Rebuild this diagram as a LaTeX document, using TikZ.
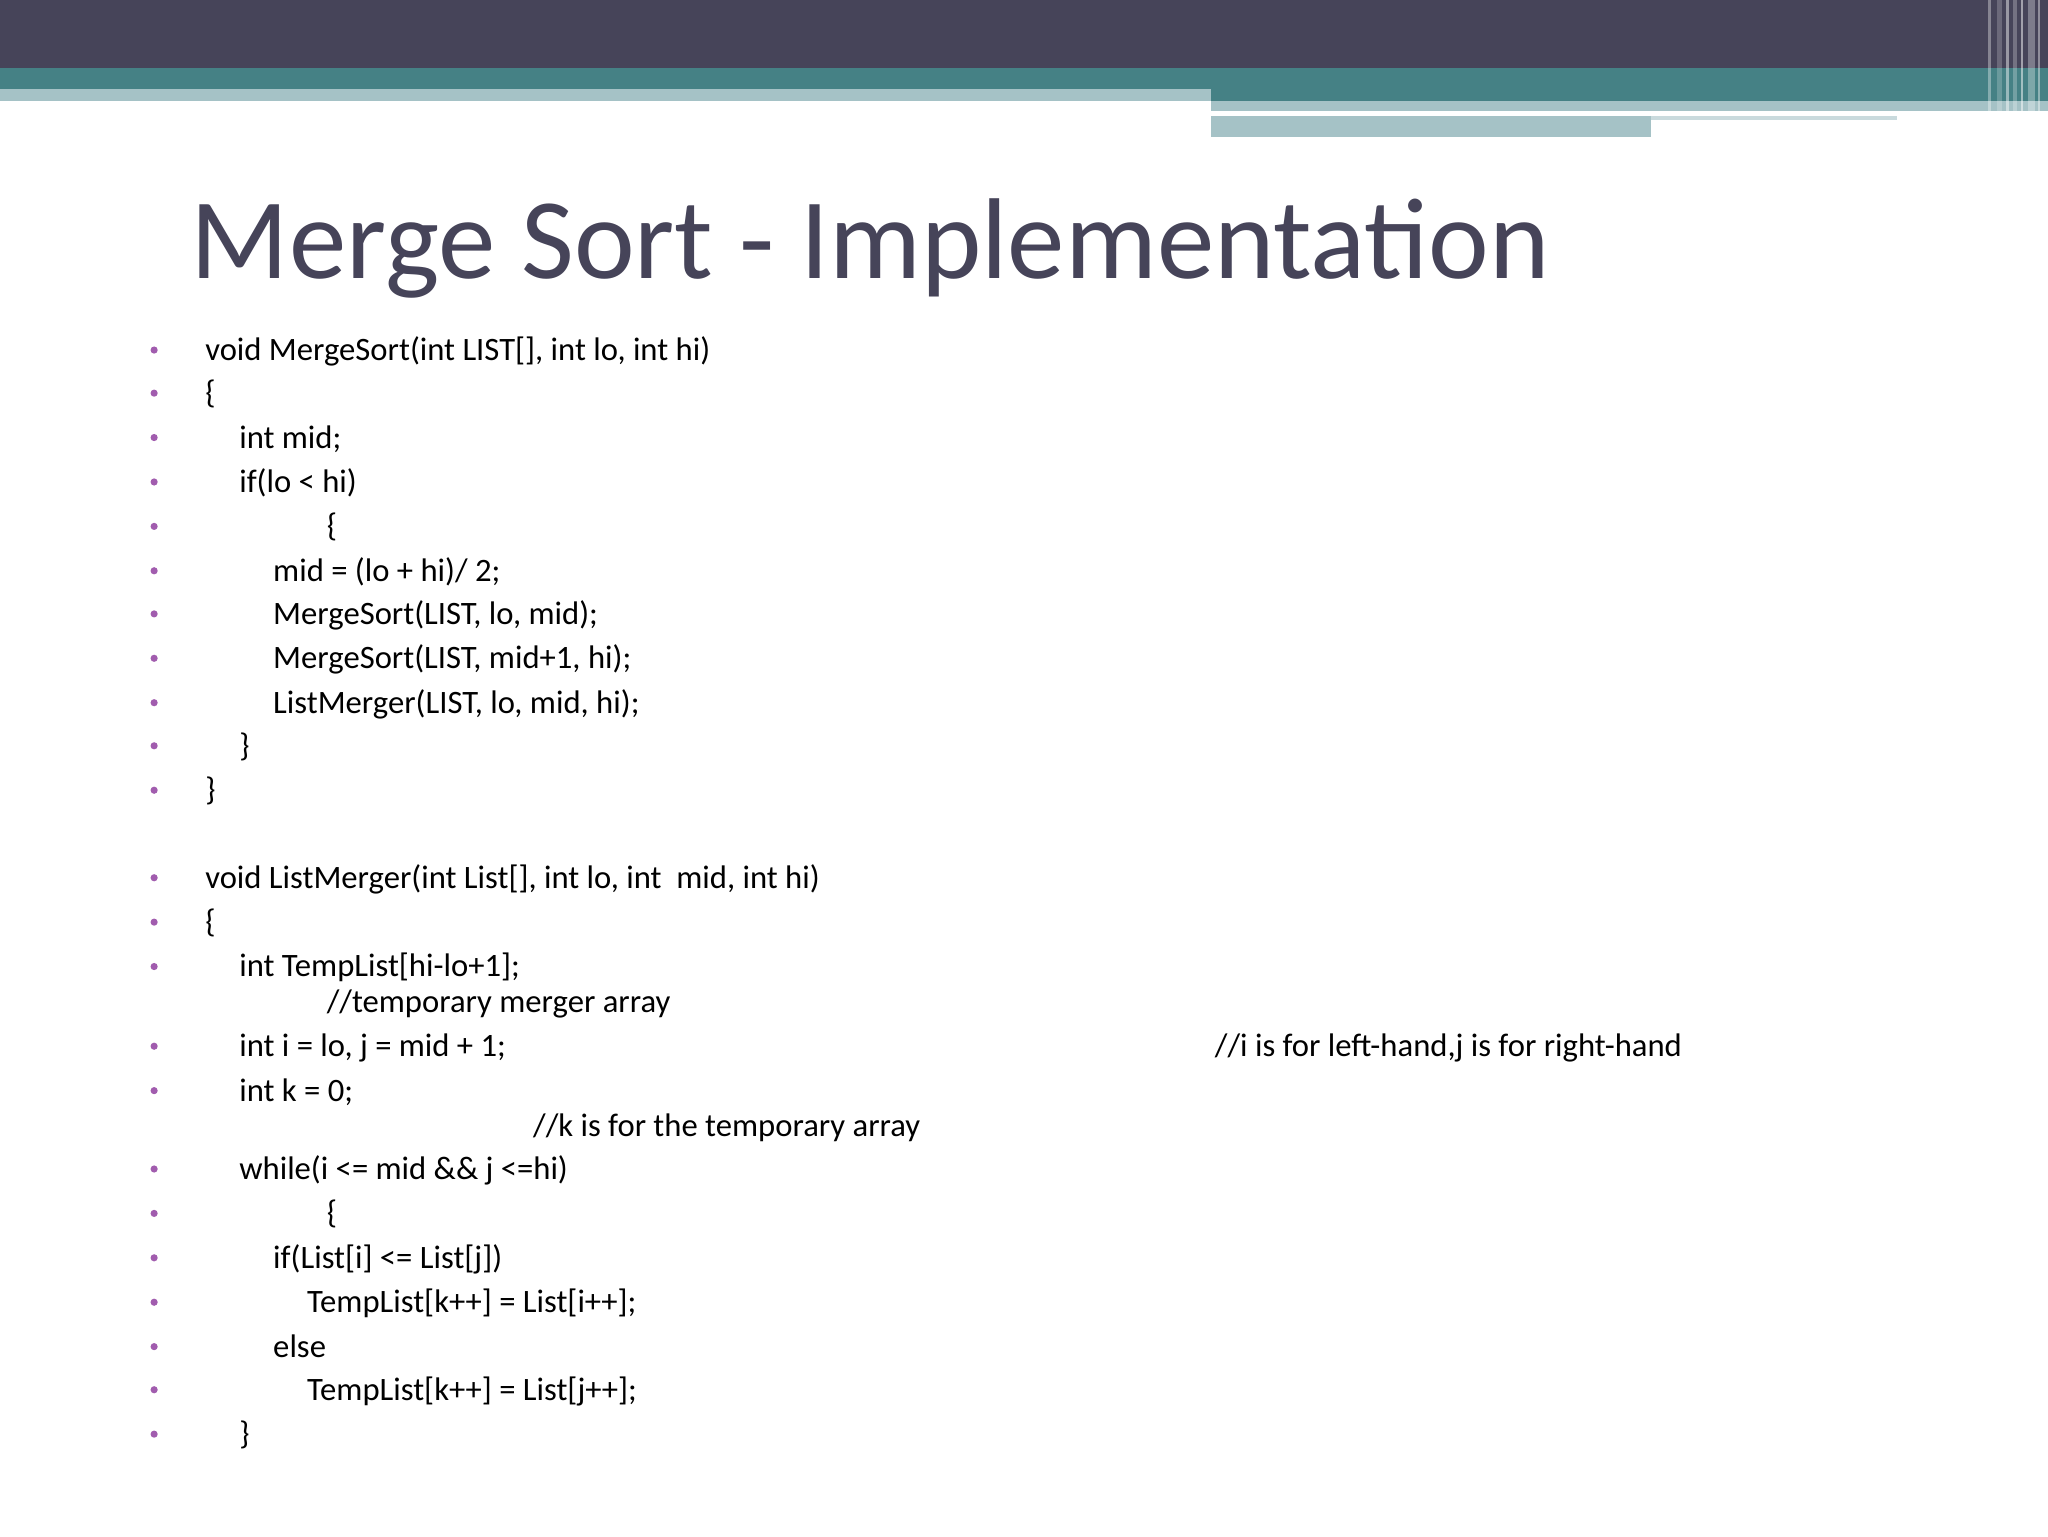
\documentclass[tikz,border=0pt]{standalone}
\usepackage{fontspec}
\setmainfont{Carlito}
\begin{document}
\begin{tikzpicture}[x=1pt,y=-1pt,
  code/.style={anchor=base west,inner sep=0pt,font=\fontsize{25}{30}\selectfont},
  bul/.style={circle,fill=bulc,inner sep=0pt,minimum size=5.5pt}]
\definecolor{dark}{HTML}{464459}
\definecolor{teal}{HTML}{458185}
\definecolor{light}{HTML}{A5C2C6}
\definecolor{bulc}{HTML}{A15CAE}
\useasboundingbox (0,0) rectangle (1568,1176);
\fill[white] (0,0) rectangle (1568,1176);
\fill[dark] (0,0) rectangle (1568,52);
\fill[teal] (0,52) rectangle (1568,68);
\fill[teal] (927,68) rectangle (1568,77);
\fill[light] (0,68) rectangle (927,77);
\fill[light] (927,77) rectangle (1568,85);
\fill[light] (927,89) rectangle (1264,105);
\fill[light!60] (1264,89) rectangle (1452,92);
\foreach \a/\w/\o in {1522/2/0.35,1529/4/0.2,1536/2/0.45,1541/3/0.25,1547/1.5/0.5,1553/5/0.3,1560/2/0.4}
  \fill[white,opacity=\o] (\a,0) rectangle (\a+\w,105);
\node[anchor=base west,inner sep=0pt,text=dark,font=\fontsize{88}{100}\selectfont] (title) at (146,213) {Merge Sort - Implementation};
\foreach [count=\i] \y/\x/\t/\b in {
 268/157/{void MergeSort(int LIST[], int lo, int hi)}/1,
 301/157/\{/1,
 335/183/{int mid;}/1,
 369/183/{if(lo < hi)}/1,
 403/250/\{/1,
 437/209/{mid = (lo + hi)/ 2;}/1,
 470/209/{MergeSort(LIST, lo, mid);}/1,
 504/209/{MergeSort(LIST, mid+1, hi);}/1,
 538/209/{ListMerger(LIST, lo, mid, hi);}/1,
 571/183/\}/1,
 605/157/\}/1,
 672/157/{void ListMerger(int List[], int lo, int \ mid, int hi)}/1,
 706/157/\{/1,
 740/183/{int TempList[hi-lo+1];}/1,
 767/250/{//temporary merger array}/0,
 801/183/{int i = lo, j = mid + 1;}/1,
 801/930/{//i is for left-hand,j is for right-hand}/0,
 835/183/{int k = 0;}/1,
 862/408/{//k is for the temporary array}/0,
 895/183/{while(i <= mid \&\& j <=hi)}/1,
 929/250/\{/1,
 963/209/{if(List[i] <= List[j])}/1,
 997/235/{TempList[k++] = List[i++];}/1,
 1031/209/{else}/1,
 1064/235/{TempList[k++] = List[j++];}/1,
 1098/183/\}/1}
{
  \node[code] (l\i) at (\x,\y+8) {\t};
  \ifnum\b=1 \node[bul] (b\i) at (118,\y) {};\fi
}
\end{tikzpicture}
\end{document}
